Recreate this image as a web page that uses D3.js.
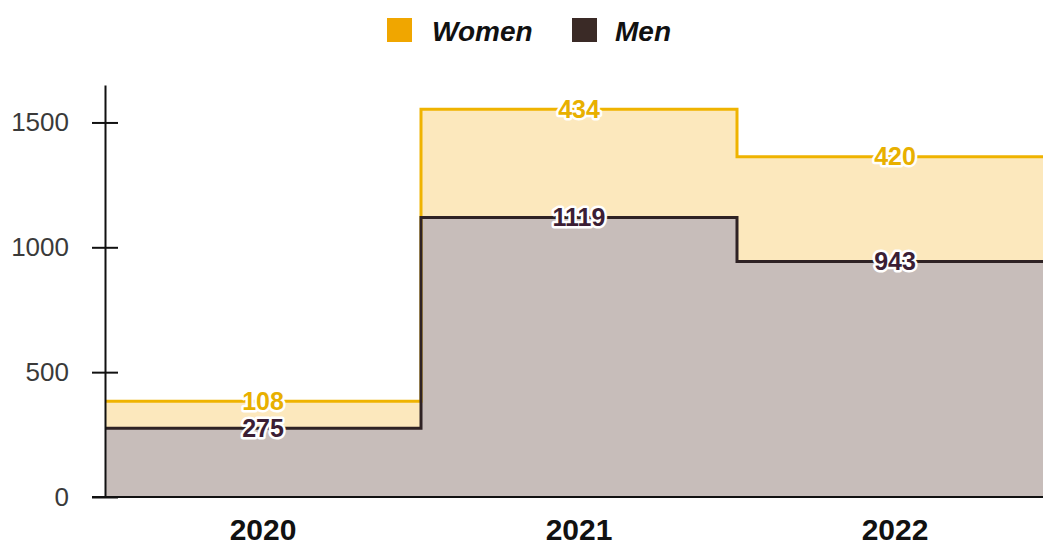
<!DOCTYPE html>
<html>
<head>
<meta charset="utf-8">
<script src="https://cdn.jsdelivr.net/npm/d3@7"></script>
<style>
  html, body { margin: 0; padding: 0; background: #ffffff; overflow: hidden; }
  svg { display: block; font-family: "Liberation Sans", Arial, sans-serif; }
</style>
</head>
<body>
<svg id="chart" width="1043" height="547"></svg>
<script>
// Headcount by year, stacked: men at the bottom, women on top
const years = ["2020", "2021", "2022"];
const men = [275, 1119, 943];
const women = [108, 434, 420];
const yTicks = [0, 500, 1000, 1500];
const seriesNames = ["Women", "Men"];

const colors = {
  womenLine: "#efb300",
  womenFill: "#fce8bd",
  womenText: "#e8b000",
  womenKey: "#f0a600",
  menLine: "#2e2224",
  menFill: "#c7bdba",
  menText: "#3b1e34",
  menKey: "#3a2a26"
};

const svg = d3.select("#chart");
const margin = { left: 105, top: 85, bottom: 497, right: 1053 };

const x = d3.scaleBand().domain(years).range([margin.left, margin.right]).padding(0);
const y = d3.scaleLinear().domain([0, 1650]).range([margin.bottom, margin.top]);

// Each year covers its whole band; consecutive points make the steps
const rows = years.map((yr, i) => ({ yr, men: men[i], total: men[i] + women[i] }));
const stepPts = rows.flatMap(r => [
  { px: x(r.yr), ...r },
  { px: x(r.yr) + x.bandwidth(), ...r }
]);

const womenArea = d3.area().x(d => d.px).y0(d => y(d.men)).y1(d => y(d.total));
const menArea = d3.area().x(d => d.px).y0(y(0)).y1(d => y(d.men));
const womenLine = d3.line().x(d => d.px).y(d => y(d.total));
const menLine = d3.line().x(d => d.px).y(d => y(d.men));

svg.append("path").attr("d", womenArea(stepPts)).attr("fill", colors.womenFill);
svg.append("path").attr("d", menArea(stepPts)).attr("fill", colors.menFill);

svg.append("path")
  .attr("d", womenLine(stepPts))
  .attr("fill", "none").attr("stroke", colors.womenLine).attr("stroke-width", 3);
svg.append("path")
  .attr("d", menLine(stepPts))
  .attr("fill", "none").attr("stroke", colors.menLine).attr("stroke-width", 3);

// Y axis with ticks crossing the axis line
const yAxis = svg.append("g")
  .attr("transform", `translate(${margin.left},0)`)
  .call(d3.axisLeft(y).tickValues(yTicks).tickFormat(d3.format("d")).tickSizeOuter(0).tickPadding(30));
yAxis.select(".domain").attr("stroke", "#111").attr("stroke-width", 2);
yAxis.selectAll(".tick line").attr("x1", -13).attr("x2", 13).attr("stroke", "#111").attr("stroke-width", 2);
yAxis.selectAll(".tick text")
  .attr("font-size", 26).attr("fill", "#3a3a3a")
  .attr("font-family", "'Liberation Sans', Arial, sans-serif");

// X axis: baseline only, bold year labels
const xAxis = svg.append("g")
  .attr("transform", `translate(0,${margin.bottom})`)
  .call(d3.axisBottom(x).tickSize(0).tickPadding(22));
xAxis.select(".domain").remove();
xAxis.selectAll(".tick text")
  .attr("font-size", 30).attr("font-weight", "bold").attr("fill", "#111")
  .attr("font-family", "'Liberation Sans', Arial, sans-serif");
svg.append("line")
  .attr("x1", margin.left - 13).attr("x2", 1043)
  .attr("y1", y(0)).attr("y2", y(0))
  .attr("stroke", "#111").attr("stroke-width", 2);

// Value labels sitting on each line, with a white halo
function addLabels(values, level, fill) {
  svg.append("g").selectAll("text")
    .data(rows)
    .join("text")
    .attr("x", d => x(d.yr) + x.bandwidth() / 2)
    .attr("y", d => y(level(d)))
    .attr("dy", "0.35em")
    .attr("text-anchor", "middle")
    .attr("font-size", 25).attr("font-weight", "bold")
    .attr("fill", fill)
    .attr("stroke", "#ffffff").attr("stroke-width", 5)
    .attr("paint-order", "stroke")
    .attr("stroke-linejoin", "round")
    .text((d, i) => values[i]);
}
addLabels(women, d => d.total, colors.womenText);
addLabels(men, d => d.men, colors.menText);

// Legend
const legend = svg.append("g");
const keyItems = [
  { name: seriesNames[0], color: colors.womenKey, sx: 387, tx: 432 },
  { name: seriesNames[1], color: colors.menKey, sx: 572, tx: 615 }
];
keyItems.forEach(k => {
  legend.append("rect").attr("x", k.sx).attr("y", 18).attr("width", 25).attr("height", 24).attr("fill", k.color);
  legend.append("text")
    .attr("x", k.tx).attr("y", 41)
    .attr("font-size", 28).attr("font-weight", "bold").attr("font-style", "italic")
    .attr("fill", "#111")
    .text(k.name);
});
</script>
</body>
</html>
